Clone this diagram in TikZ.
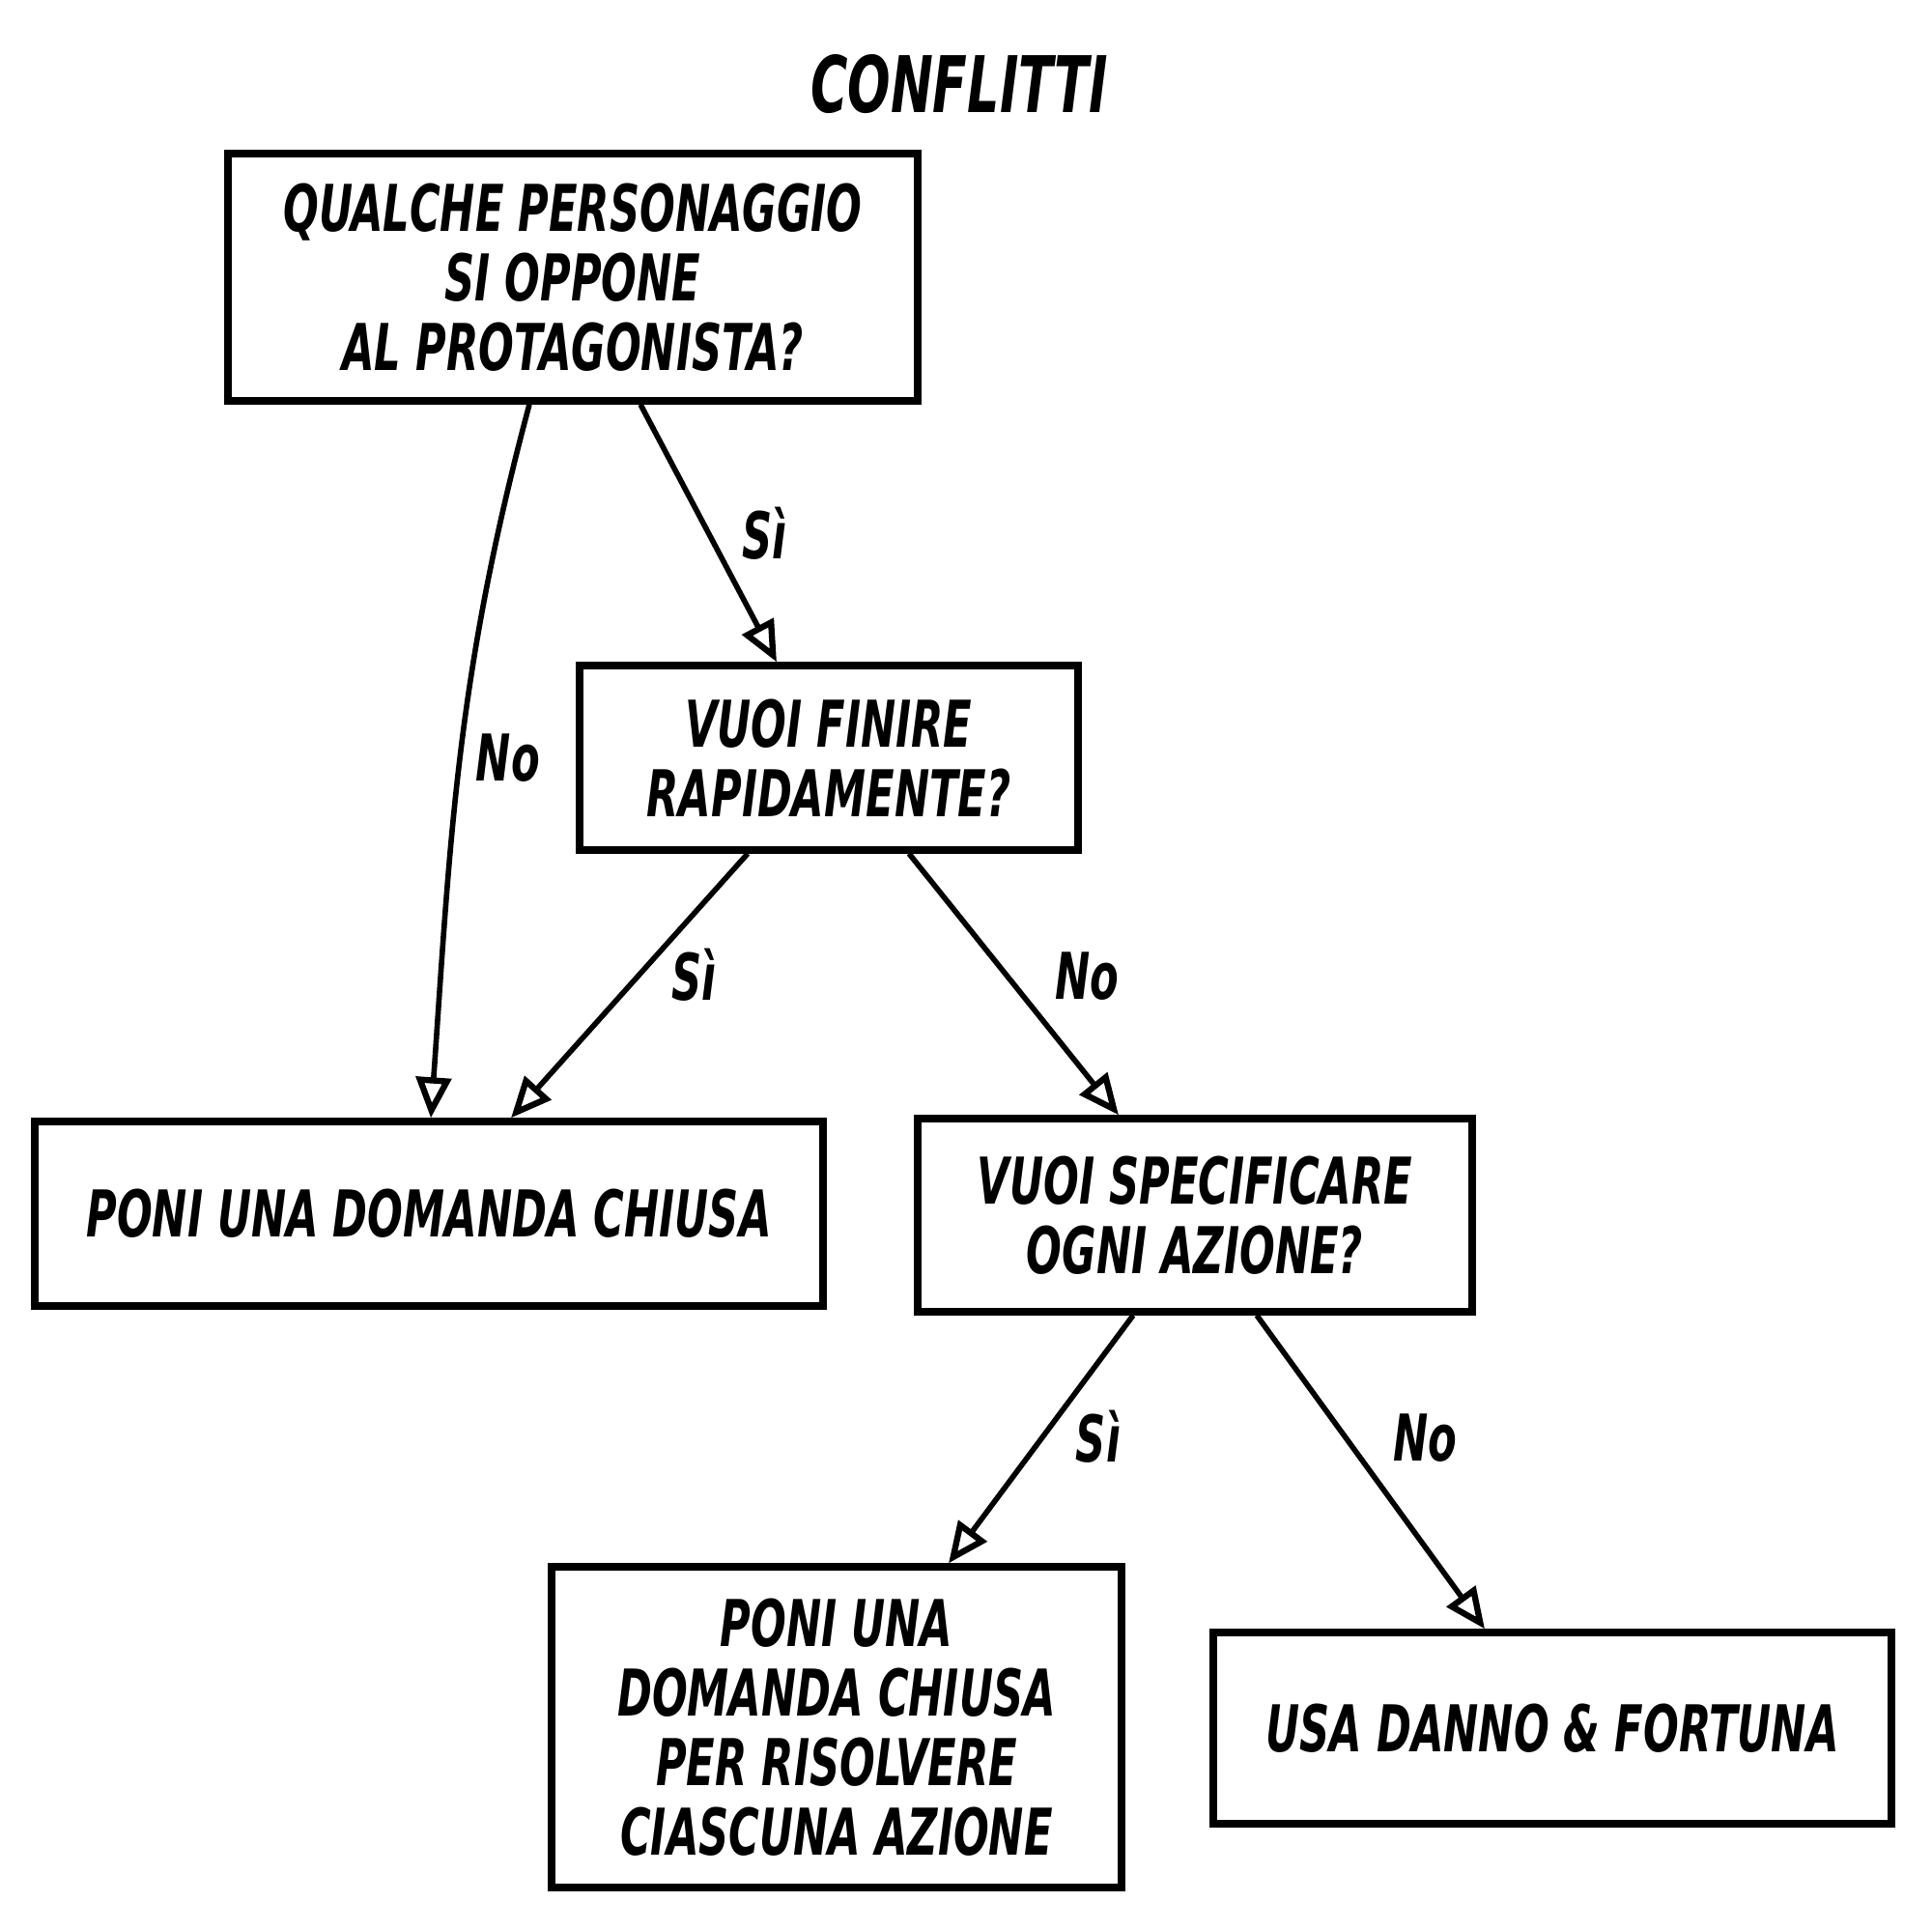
\documentclass[tikz,border=0pt]{standalone}
\usepackage{fontspec}
\usetikzlibrary{arrows.meta}
\newfontfamily\hand{DejaVu Sans Condensed}[FakeStretch=0.72]
\newcommand{\boxfont}{\hand\bfseries\itshape\fontsize{19}{20.5}\selectfont}
\tikzset{
  qbox/.style={draw, line width=2.1pt, rectangle, align=center, inner sep=0pt, font=\boxfont},
  link/.style={line width=1.6pt, -{Triangle[open, length=4.2mm, width=3.6mm, line width=1.8pt]}},
  lbl/.style={font=\boxfont}
}

\begin{document}
\begin{tikzpicture}
  \useasboundingbox (0,0) rectangle (20,-19.98);
  \node (title) at (9.93,-0.87) {\hand\bfseries\itshape\fontsize{23}{25}\selectfont CONFLITTI};
  \node[qbox, minimum width=7.14cm, minimum height=2.56cm] (Q1) at (5.93,-2.87)
    {QUALCHE PERSONAGGIO\\SI OPPONE\\AL PROTAGONISTA?};
  \node[qbox, minimum width=5.16cm, minimum height=1.91cm] (Q2) at (8.58,-7.845)
    {VUOI FINIRE\\RAPIDAMENTE?};
  \node[qbox, minimum width=8.16cm, minimum height=1.91cm] (A1) at (4.44,-12.565)
    {PONI UNA DOMANDA CHIUSA};
  \node[qbox, minimum width=5.74cm, minimum height=2.00cm] (Q3) at (12.37,-12.58)
    {VUOI SPECIFICARE\\OGNI AZIONE?};
  \node[qbox, minimum width=5.90cm, minimum height=3.32cm] (A2) at (8.66,-17.88)
    {PONI UNA\\DOMANDA CHIUSA\\PER RISOLVERE\\CIASCUNA AZIONE};
  \node[qbox, minimum width=7.02cm, minimum height=1.98cm] (A3) at (16.07,-17.89)
    {USA DANNO \& FORTUNA};
  % collegamenti
  \draw[link] ([xshift=-0.45cm]Q1.south) to[out=-105, in=86]
    node[pos=0.5, right=0.02cm, lbl] {No} ([xshift=0.02cm]A1.north);
  \draw[link] ([xshift=0.70cm]Q1.south) -- node[pos=0.5, right=0.2cm, lbl] {Sì} ([xshift=-0.54cm]Q2.north);
  \draw[link] ([xshift=-0.84cm]Q2.south) -- node[pos=0.46, right=0.2cm, lbl] {Sì} ([xshift=0.85cm]A1.north);
  \draw[link] ([xshift=0.83cm]Q2.south) -- node[pos=0.47, right=0.35cm, lbl] {No} ([xshift=-0.79cm]Q3.north);
  \draw[link] ([xshift=-0.64cm]Q3.south) -- node[pos=0.49, right=0.2cm, lbl] {Sì} ([xshift=1.16cm]A2.north);
  \draw[link] ([xshift=0.64cm]Q3.south) -- node[pos=0.39, right=0.35cm, lbl] {No} ([xshift=-0.70cm]A3.north);
\end{tikzpicture}
\end{document}
